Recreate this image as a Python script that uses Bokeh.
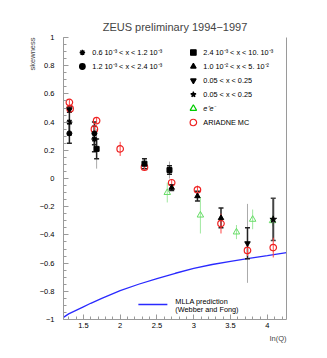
import numpy as np
from bokeh.plotting import figure
from bokeh.models import Range1d, LinearAxis, FixedTicker, Label, Title, CustomJSTickFormatter
from bokeh.embed import file_html
from bokeh.resources import INLINE

# ---------------- data ----------------
# 0.6e-3 < x < 1.2e-3 (asterisk)
s1_lnq = [1.31, 1.65]
s1_sk = [0.40, 0.28]
s1_err = [0.09, 0.09]
# 1.2e-3 < x < 2.4e-3 (circle)
s2_lnq = [1.31, 1.65]
s2_sk = [0.32, 0.32]
s2_err = [0.07, 0.08]
# 2.4e-3 < x < 10e-3 (square)
s3_lnq = [1.68, 2.33, 2.67]
s3_sk = [0.21, 0.105, 0.06]
s3_err = [0.07, 0.035, 0.03]
s3_sys = [0.14, 0.04, 0.06]
# 1.0e-2 < x < 5e-2 (triangle)
s4_lnq = [2.70, 3.05, 3.37]
s4_sk = [-0.065, -0.125, -0.28]
s4_err = [0.02, 0.035, 0.07]
# 0.05 < x < 0.25 (inverted triangle)
s5_lnq = [1.31, 3.73]
s5_sk = [0.49, -0.46]
s5_err = [0.02, 0.11]
s5_sys = [0.0, 0.28]
# 0.05 < x < 0.25 (star)
s6_lnq = [4.08]
s6_sk = [-0.29]
s6_err = [0.15]
# e+e-
ee_lnq = [2.64, 3.09, 3.58, 3.80, 4.07]
ee_sk = [-0.10, -0.26, -0.38, -0.29, -0.30]
ee_err = [0.07, 0.13, 0.05, 0.07, 0.04]
# ARIADNE MC
mc_lnq = [1.31, 1.32, 1.65, 1.68, 2.00, 2.33, 2.70, 3.05, 3.37, 3.73, 4.08]
mc_sk = [0.54, 0.495, 0.35, 0.41, 0.21, 0.08, -0.03, -0.08, -0.32, -0.51, -0.49]
mc_err = [0.02, 0.02, 0.02, 0.02, 0.05, 0.02, 0.02, 0.03, 0.07, 0.04, 0.07]
# MLLA prediction
mlla_lnq = [1.23, 1.3, 1.4, 1.5, 1.6, 1.75, 2.0, 2.25, 2.5, 2.75, 3.0, 3.25, 3.5, 3.75, 4.0, 4.26]
mlla_sk = [-0.985, -0.96, -0.935, -0.91, -0.885, -0.85, -0.795, -0.75, -0.71, -0.672,
           -0.638, -0.61, -0.588, -0.567, -0.547, -0.525]

legend_left = ["0.6 10\u207b\u00b3 < x < 1.2 10\u207b\u00b3", "1.2 10\u207b\u00b3 < x < 2.4 10\u207b\u00b3"]
legend_right = ["2.4 10\u207b\u00b3 < x < 10. 10\u207b\u00b3", "1.0 10\u207b\u00b2 < x < 5. 10\u207b\u00b2",
                "0.05 < x < 0.25", "0.05 < x < 0.25", "e\u207ae\u207b", "ARIADNE MC"]

FONT = "Liberation Sans"
AX = "#9a9a9a"

p = figure(width=319, height=350, x_range=Range1d(1.23, 4.26), y_range=Range1d(-1, 1),
           output_backend="svg", toolbar_location=None,
           min_border_left=63, min_border_right=33, min_border_top=37, min_border_bottom=31)
p.outline_line_color = None
p.grid.visible = False
p.background_fill_color = "white"

p.title.text = "ZEUS preliminary 1994\u22121997"
p.title.align = "center"
p.title.offset = 8
p.title.standoff = 9
p.title.text_font = FONT
p.title.text_font_size = "11px"
p.title.text_font_style = "normal"

fmt = CustomJSTickFormatter(code="""
var s = Math.abs(tick).toFixed(1).replace(/\\.0$/, "");
return (tick < -1e-9 ? "\\u2212" : "") + s;
""")
p.xaxis.ticker = FixedTicker(ticks=[1.5, 2, 2.5, 3, 3.5, 4],
                             minor_ticks=[round(v, 2) for v in np.arange(1.3, 4.26, 0.1)])
p.yaxis.ticker = FixedTicker(ticks=[round(v, 2) for v in np.arange(-1, 1.01, 0.2)],
                             minor_ticks=[round(v, 2) for v in np.arange(-1, 1.01, 0.05)])
for ax in (p.xaxis[0], p.yaxis[0]):
    ax.formatter = fmt
    ax.axis_line_color = AX
    ax.major_tick_line_color = AX
    ax.minor_tick_line_color = AX
    ax.major_tick_in = 5
    ax.major_tick_out = 0
    ax.minor_tick_in = 3
    ax.minor_tick_out = 0
    ax.major_label_text_font = FONT
    ax.major_label_text_font_size = "7.5px"
    ax.major_label_text_color = "black"
p.xaxis.major_label_standoff = 3
p.yaxis.major_label_standoff = 9

rax = LinearAxis(ticker=FixedTicker(ticks=[]), axis_line_color=AX,
                 major_tick_line_color=None, minor_tick_line_color=None,
                 major_label_text_font_size="0px")
p.add_layout(rax, "right")

p.add_layout(Title(text="skewness", align="right", text_font=FONT, text_font_size="7.5px",
                   text_font_style="normal", standoff=0), "left")
p.add_layout(Title(text="ln(Q)", align="right", text_font=FONT, text_font_size="7.5px",
                   text_font_style="normal", standoff=2), "below")


def errbar(xs, ys, es, color, width=1.5, cap=True):
    x0 = list(xs)
    lo = [y - e for y, e in zip(ys, es)]
    hi = [y + e for y, e in zip(ys, es)]
    p.segment(x0=x0, y0=lo, x1=x0, y1=hi, line_color=color, line_width=width)
    if cap:
        p.scatter(x=x0 + x0, y=lo + hi, marker="dash", size=5, line_color=color, line_width=1.5)


# systematic (thin grey) lines
errbar(s3_lnq, s3_sk, s3_sys, "#aaaaaa", 1, cap=False)
errbar(s5_lnq, s5_sk, s5_sys, "#aaaaaa", 1, cap=False)

# MLLA curve
p.line(mlla_lnq, mlla_sk, line_color="#2a2aff", line_width=1.3)

# e+e-
errbar(ee_lnq, ee_sk, ee_err, "#9fe89f", 1, cap=False)
p.scatter(ee_lnq, ee_sk, marker="triangle", size=6.5, fill_color=None, line_color="#66dd66", line_width=1)

# data series
errbar(s1_lnq, s1_sk, s1_err, "#222222")
errbar(s2_lnq, s2_sk, s2_err, "#222222")
errbar(s3_lnq, s3_sk, s3_err, "#222222")
errbar(s4_lnq, s4_sk, s4_err, "#222222")
errbar(s5_lnq, s5_sk, s5_err, "#222222")
errbar(s6_lnq, s6_sk, s6_err, "#444444", 2)

# ARIADNE MC
errbar(mc_lnq, mc_sk, mc_err, "#ff4444", 1, cap=False)
p.scatter(mc_lnq, mc_sk, marker="circle", size=6.5, fill_color=None, line_color="#ee2222", line_width=1.2)

p.scatter(s1_lnq, s1_sk, marker="asterisk", size=6, line_color="black", line_width=1.4)
p.scatter(s2_lnq, s2_sk, marker="circle", size=5, color="black")
p.scatter(s3_lnq, s3_sk, marker="square", size=5, color="black")
p.scatter(s4_lnq, s4_sk, marker="triangle", size=5.5, color="black")
p.scatter(s5_lnq, s5_sk, marker="inverted_triangle", size=5.5, color="black")
p.scatter(s6_lnq, s6_sk, marker="star", size=7, color="black")


# ---------------- legend (positions from pixel layout) ----------------
def dx(px):
    return 1.5 + (px - 83) / 73.6


def dy(py):
    return -1 + (319 - py) / 141


def lab(text, px, py, size="7.3px", style="normal"):
    p.add_layout(Label(x=dx(px), y=dy(py), text=text, text_font=FONT, text_font_size=size,
                       text_align="left", text_baseline="middle",
                       text_font_style=style, text_color="black"))


rows = [52, 66, 80, 94, 108, 122]
left_markers = [("asterisk", "black", "black"), ("circle", "black", "black")]
right_markers = [("square", "black", "black"), ("triangle", "black", "black"),
                 ("inverted_triangle", "black", "black"), ("star", "black", "black"),
                 ("triangle", None, "#00cc00"), ("circle", None, "#ee2222")]
for i, t in enumerate(legend_left):
    m, fc, lc = left_markers[i]
    p.scatter([dx(82)], [dy(rows[i])], marker=m, size=5.5, fill_color=fc, line_color=lc, line_width=1.3)
    lab(t, 92, rows[i])
for i, t in enumerate(legend_right):
    m, fc, lc = right_markers[i]
    p.scatter([dx(193)], [dy(rows[i])], marker=m, size=6.5 if fc is None else 5.5,
              fill_color=fc, line_color=lc, line_width=1.2)
    lab(t, 203, rows[i], style="italic" if i == 4 else "normal")

p.line([dx(138), dx(167)], [dy(304), dy(304)], line_color="#2a2aff", line_width=1.3)
lab("MLLA prediction", 175, 301)
lab("(Webber and Fong)", 175, 309)

open("out.html", "w").write(file_html(p, INLINE))
